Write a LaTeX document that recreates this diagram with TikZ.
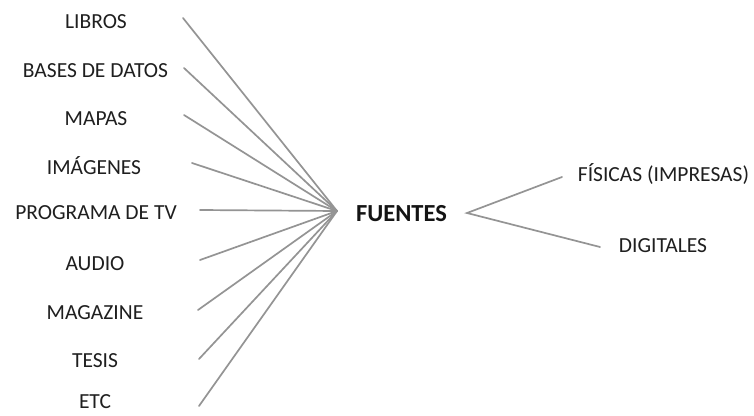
\documentclass[tikz,border=0pt]{standalone}
\usepackage{fontspec}
\setmainfont{Carlito}
\begin{document}
\begin{tikzpicture}[x=1pt,y=-1pt,
  lbl/.style={inner sep=0pt, text height=14pt, text depth=0pt, text=black!88,
    font=\fontsize{21.5}{26}\selectfont},
  hubl/.style={inner sep=0pt, text height=16pt, text depth=0pt, text=black!92,
    font=\fontsize{24.5}{29}\bfseries\selectfont},
  conn/.style={draw=black!42, line width=1.7pt, line cap=round}]
\useasboundingbox[fill=white] (0,0) rectangle (754,415);
% left labels
\node[lbl] (libros) at (96,21) {LIBROS};
\node[lbl] (bases) at (95.5,70) {BASES DE DATOS};
\node[lbl] (mapas) at (96,118) {MAPAS};
\node[lbl] (imagenes) at (94,167) {IMÁGENES};
\node[lbl] (programa) at (96,212) {PROGRAMA DE TV};
\node[lbl] (audio) at (95,263) {AUDIO};
\node[lbl] (magazine) at (95,312) {MAGAZINE};
\node[lbl] (tesis) at (95,360) {TESIS};
\node[lbl] (etc) at (95,401.5) {ETC};
% center
\node[hubl] (fuentes) at (401.5,213) {FUENTES};
\node[lbl] (fisicas) at (663.5,174) {FÍSICAS (IMPRESAS)};
\node[lbl] (digitales) at (663,245) {DIGITALES};
% connector points
\coordinate (hub) at (337,211);
\coordinate (split) at (467,213);
\coordinate (cLibros) at (183,18);
\coordinate (cBases) at (184,68);
\coordinate (cMapas) at (184,115);
\coordinate (cImagenes) at (192,163);
\coordinate (cPrograma) at (200,210);
\coordinate (cAudio) at (200,260);
\coordinate (cMagazine) at (198,310);
\coordinate (cTesis) at (199,359);
\coordinate (cEtc) at (199,406);
\coordinate (cFisicas) at (562,177);
\coordinate (cDigitales) at (600,247);
\foreach \c in {cLibros,cBases,cMapas,cImagenes,cPrograma,cAudio,cMagazine,cTesis,cEtc}
  \draw[conn] (\c) -- (hub);
\draw[conn] (cFisicas) -- (split) -- (cDigitales);
\end{tikzpicture}
\end{document}
